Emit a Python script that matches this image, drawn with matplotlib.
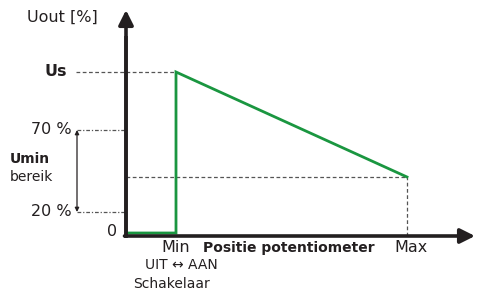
import matplotlib.pyplot as plt

# diagram units (schematic, not to scale)
x_min, x_max = 50, 281          # Min / Max positions on the potentiometer axis
y_zero, y_20, y_70, y_us, y_end = 0, 24, 106, 164, 59
x_arrow_end, y_arrow_end = 349, 226

curve_x = [2, x_min, x_min, x_max]
curve_y = [3, 3, y_us, y_end]

green = '#1a9640'
dark = '#231f20'
grey = '#555555'

plt.rcParams['font.family'] = ['DejaVu Sans']
fig = plt.figure(figsize=(4.82, 2.97), dpi=100)
ax = fig.add_axes([0, 0, 1, 1])
ax.set_xlim(-126, 356)
ax.set_ylim(-61, 236)
ax.axis('off')

# dashed helper lines
ax.plot([-50, x_min], [y_us, y_us], ls=(0, (3, 2)), color=grey, lw=0.9)
ax.plot([-49, 0], [y_70, y_70], ls=(0, (3, 1.5, 1, 1.5)), color=grey, lw=0.9)
ax.plot([-49, 0], [y_20, y_20], ls=(0, (3, 1.5, 1, 1.5)), color=grey, lw=0.9)
ax.plot([0, x_max], [y_end, y_end], ls=(0, (3, 2)), color=grey, lw=0.9)
ax.plot([x_max, x_max], [y_zero, y_end], ls=(0, (3, 2)), color=grey, lw=0.9)

# output curve
ax.plot(curve_x, curve_y, color=green, lw=2, solid_joinstyle='miter')

# axes with arrows
ax.plot([0, 0], [-1.5, 200], color=dark, lw=2.6, solid_capstyle='butt')
ax.annotate('', xy=(0, y_arrow_end), xytext=(0, 0),
            arrowprops=dict(arrowstyle='-|>', lw=2.6, color=dark, mutation_scale=22,
                            shrinkA=0, shrinkB=0))
ax.annotate('', xy=(x_arrow_end, 0), xytext=(-1.5, 0),
            arrowprops=dict(arrowstyle='-|>', lw=2.6, color=dark, mutation_scale=22,
                            shrinkA=0, shrinkB=0))

# Umin range arrow
ax.annotate('', xy=(-49, y_70), xytext=(-49, y_20),
            arrowprops=dict(arrowstyle='<|-|>', lw=0.9, color=dark, mutation_scale=6,
                            shrinkA=0, shrinkB=0))

fs = 11.5
fs2 = 10
ax.text(-64, 219, 'Uout [%]', ha='center', va='center', fontsize=fs, color=dark)
ax.text(-59, y_us, 'Us', ha='right', va='center', fontsize=fs, fontweight='bold', color=dark)
ax.text(-54, y_70, '70 %', ha='right', va='center', fontsize=fs, color=dark)
ax.text(-54, y_20, '20 %', ha='right', va='center', fontsize=fs, color=dark)
ax.text(-9, 4, '0', ha='right', va='center', fontsize=fs, color=dark)
ax.text(-116, 77, 'Umin', ha='left', va='center', fontsize=fs2, fontweight='bold', color=dark)
ax.text(-116, 59, 'bereik', ha='left', va='center', fontsize=fs2, color=dark)

ax.text(x_min, -12, 'Min', ha='center', va='center', fontsize=fs, color=dark)
ax.text(x_max + 4, -12, 'Max', ha='center', va='center', fontsize=fs, color=dark)
ax.text(77, -12, 'Positie potentiometer', ha='left', va='center', fontsize=fs2,
        fontweight='bold', color=dark)
ax.text(55, -29, 'UIT \u2194 AAN', ha='center', va='center', fontsize=fs2, color=dark)
ax.text(46, -48, 'Schakelaar', ha='center', va='center', fontsize=fs2, color=dark)

fig.savefig('out.png', dpi=100)
